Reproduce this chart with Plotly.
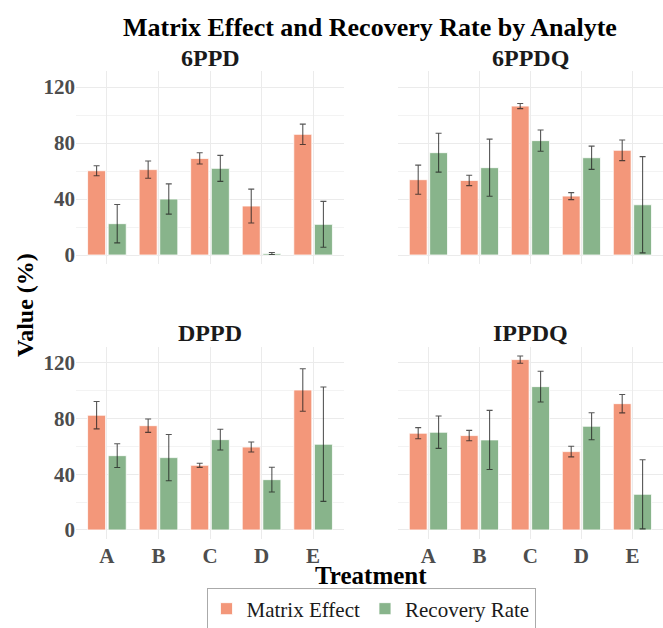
import plotly.graph_objects as go

treatments = ["A", "B", "C", "D", "E"]
analytes = ["6PPD", "6PPDQ", "DPPD", "IPPDQ"]

matrix_effect = {
    "6PPD":  [60.2, 61.0, 69.0, 35.0, 86.2],
    "6PPDQ": [53.8, 53.3, 106.4, 42.1, 74.8],
    "DPPD":  [82.3, 74.8, 46.4, 59.5, 100.4],
    "IPPDQ": [69.4, 67.7, 122.2, 56.2, 90.6],
}
matrix_effect_sd = {
    "6PPD":  [3.6, 6.2, 4.0, 12.1, 7.3],
    "6PPDQ": [10.4, 3.7, 1.8, 2.5, 7.4],
    "DPPD":  [9.8, 4.8, 1.5, 3.6, 15.2],
    "IPPDQ": [4.0, 3.7, 2.6, 3.8, 6.6],
}
recovery_rate = {
    "6PPD":  [22.4, 40.0, 61.9, 1.1, 21.9],
    "6PPDQ": [73.1, 62.4, 81.7, 69.5, 35.9],
    "DPPD":  [53.3, 51.9, 64.8, 36.1, 61.5],
    "IPPDQ": [70.1, 64.6, 102.8, 74.4, 25.6],
}
recovery_rate_sd = {
    "6PPD":  [13.7, 10.8, 9.3, 0.7, 16.4],
    "6PPDQ": [13.9, 20.4, 7.6, 8.3, 34.4],
    "DPPD":  [8.5, 16.6, 7.4, 8.9, 41.0],
    "IPPDQ": [11.6, 21.2, 11.0, 9.7, 24.8],
}

y_ticks = [0, 40, 80, 120]
y_minor = [20, 60, 100]

ME_COLOR = "#F3977A"
RR_COLOR = "#88B48B"
ERR_COLOR = "rgba(30,30,30,0.75)"
FONT = "Liberation Serif, Times New Roman, serif"
LEGEND_FONT = "Liberation Serif, Times New Roman, serif"

fig = go.Figure()

axis_ids = ["", "2", "3", "4"]
for i, an in enumerate(analytes):
    ax = axis_ids[i]
    fig.add_trace(go.Bar(
        x=treatments, y=matrix_effect[an], name="Matrix Effect",
        marker=dict(color=ME_COLOR, line=dict(color="white", width=0.8)),
        error_y=dict(type="data", array=matrix_effect_sd[an], color=ERR_COLOR,
                     thickness=1.1, width=3),
        xaxis="x" + ax, yaxis="y" + ax, offsetgroup="me",
        legendgroup="me", showlegend=(i == 0),
    ))
    fig.add_trace(go.Bar(
        x=treatments, y=recovery_rate[an], name="Recovery Rate",
        marker=dict(color=RR_COLOR, line=dict(color="white", width=0.8)),
        error_y=dict(type="data", array=recovery_rate_sd[an], color=ERR_COLOR,
                     thickness=1.1, width=3),
        xaxis="x" + ax, yaxis="y" + ax, offsetgroup="rr",
        legendgroup="rr", showlegend=(i == 0),
    ))

x_domains = [[0.1146, 0.5189], [0.600, 1.0], [0.1146, 0.5189], [0.600, 1.0]]
y_domains = [[0.58, 0.8865], [0.58, 0.8865], [0.1422, 0.4475], [0.1422, 0.4475]]

tick_font = dict(family=FONT, size=21, color="#4D4D4D", weight="bold")
layout = {}
for i in range(4):
    ax = axis_ids[i]
    layout["xaxis" + ax] = dict(
        domain=x_domains[i], anchor="y" + ax, type="category",
        categoryorder="array", categoryarray=treatments,
        range=[-0.6, 4.6], showgrid=True, gridcolor="#EBEBEB", gridwidth=1,
        showticklabels=(i >= 2), tickfont=tick_font, ticks="",
        ticklabelstandoff=2, automargin=False,
        zeroline=False, showline=False,
    )
    layout["yaxis" + ax] = dict(
        domain=y_domains[i], anchor="x" + ax,
        range=[-6.25, 131.25], tickvals=y_ticks,
        showgrid=True, gridcolor="#EBEBEB", gridwidth=1,
        minor=dict(tickvals=y_minor, showgrid=True, gridcolor="#F3F3F3", gridwidth=1),
        showticklabels=(i % 2 == 0), tickfont=tick_font, ticks="",
        automargin=False,
        zeroline=False, showline=False,
    )


def ann(text, x, y, size, color="black", angle=0):
    return dict(text=text, x=x, y=y, xref="paper", yref="paper", showarrow=False,
                xanchor="center", yanchor="middle", textangle=angle,
                font=dict(family=FONT, size=size, color=color))


annotations = [
    ann("<b>Matrix Effect and Recovery Rate by Analyte</b>", 370 / 663, 1 - 27 / 628, 26),
    ann("<b>6PPD</b>", sum(x_domains[0]) / 2, 1 - 58 / 628, 24, "#1A1A1A"),
    ann("<b>6PPDQ</b>", sum(x_domains[1]) / 2, 1 - 58 / 628, 24, "#1A1A1A"),
    ann("<b>DPPD</b>", sum(x_domains[2]) / 2, 1 - 333 / 628, 24, "#1A1A1A"),
    ann("<b>IPPDQ</b>", sum(x_domains[3]) / 2, 1 - 333 / 628, 24, "#1A1A1A"),
    ann("<b>Treatment</b>", 371 / 663, 1 - 575 / 628, 25),
    ann("<b>Value (%)</b>", 25 / 663, 1 - 305 / 628, 24, angle=-90),
]

fig.update_layout(
    **layout,
    annotations=annotations,
    barmode="group", bargap=0.2, bargroupgap=0.125,
    width=663, height=628,
    margin=dict(l=0, r=0, t=0, b=0, autoexpand=False),
    paper_bgcolor="white", plot_bgcolor="white",
    font=dict(family=FONT),
    legend=dict(orientation="h", x=371 / 663, xanchor="center", y=-0.004, yanchor="bottom",
                font=dict(family=LEGEND_FONT, size=21, color="#1A1A1A"),
                bordercolor="#AAAAAA", borderwidth=1, bgcolor="white",
                itemwidth=30, tracegroupgap=0),
)

fig.write_html("out.html")
